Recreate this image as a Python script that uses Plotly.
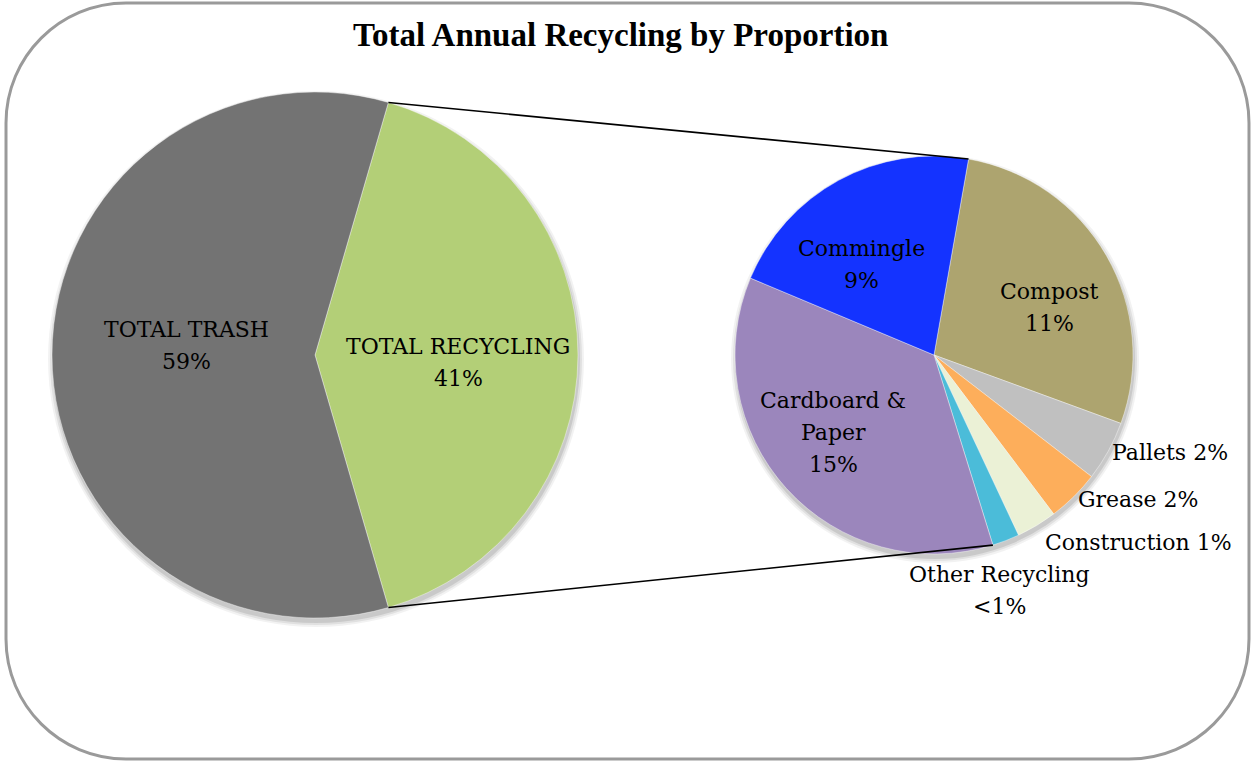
import math
import plotly.graph_objects as go

W, H = 1251, 761

# Overall split of the annual waste stream (percent)
main_labels = ["TOTAL RECYCLING", "TOTAL TRASH"]
main_values = [41, 59]
main_colors = ["#B3CF77", "#737373"]

# Breakdown of the recycling share (percent of the overall total)
sub_labels = ["Compost", "Pallets", "Grease", "Construction",
              "Other Recycling", "Cardboard & Paper", "Commingle"]
sub_values = [11.4, 2.0, 1.75, 1.35, 0.9, 14.8, 8.8]
sub_colors = ["#ADA46F", "#C0C0C0", "#FDAE5B", "#EBF1D6",
              "#4BBCD9", "#9B86BC", "#1433FF"]

title_text = "Total Annual Recycling by Proportion"

# ---- layout geometry (pixels) ----
LEFT_C, LEFT_R = (315, 355), 263
RIGHT_C, RIGHT_R = (934, 355), 199
RIGHT_ROT = 10.0
LABEL_FONT = "DejaVu Serif"
LABEL_SIZE = 22
LINE_GAP = 32

total_all = sum(main_values)


def pct_text(v):
    p = v / total_all * 100
    return "<1%" if p < 1 else f"{round(p)}%"


def px(x):
    return x / W


def py(y):
    return 1 - y / H


def domain(center, r):
    cx, cy = center
    return dict(x=[px(cx - r), px(cx + r)], y=[py(cy + r), py(cy - r)])


def slice_angles(values, rotation):
    tot = sum(values)
    out, a = [], rotation
    for v in values:
        span = v / tot * 360
        out.append((a, a + span, a + span / 2))
        a += span
    return out


def polar(center, r, ang):
    t = math.radians(ang)
    return center[0] + r * math.sin(t), center[1] - r * math.cos(t)


# recycling wedge centred on the right-hand side of the main pie
left_rot = 90 - main_values[0] / total_all * 180
left_ang = slice_angles(main_values, left_rot)
right_ang = slice_angles(sub_values, RIGHT_ROT)

edge = dict(color="rgba(255,255,255,0.4)", width=1)

fig = go.Figure()
fig.add_trace(go.Pie(
    labels=main_labels, values=main_values, sort=False, direction="clockwise",
    rotation=left_rot, marker=dict(colors=main_colors, line=edge),
    textinfo="none", hoverinfo="label+percent", showlegend=False,
    domain=domain(LEFT_C, LEFT_R),
))
fig.add_trace(go.Pie(
    labels=sub_labels, values=sub_values, sort=False, direction="clockwise",
    rotation=RIGHT_ROT, marker=dict(colors=sub_colors, line=edge),
    textinfo="none", hoverinfo="label+value", showlegend=False,
    domain=domain(RIGHT_C, RIGHT_R),
))

annotations = []


def add_label(lines, x, y, xanchor="center"):
    n = len(lines)
    for i, ln in enumerate(lines):
        yy = y + (i - (n - 1) / 2) * LINE_GAP
        annotations.append(dict(
            text=ln, x=px(x), y=py(yy), xref="paper", yref="paper",
            xanchor=xanchor, yanchor="middle", showarrow=False,
            font=dict(family=LABEL_FONT, size=LABEL_SIZE, color="#000000"),
        ))


# main pie labels: (radius fraction, dx, dy)
main_place = {"TOTAL RECYCLING": (0.544, 0, 7), "TOTAL TRASH": (0.487, 0, -10)}
for name, val, (a0, a1, mid) in zip(main_labels, main_values, left_ang):
    k, dx, dy = main_place[name]
    x, y = polar(LEFT_C, LEFT_R * k, mid)
    add_label([name, pct_text(val)], x + dx, y + dy)

# breakdown labels: (display lines before pct, joiner, radius fraction, dx, dy, anchor)
sub_place = {
    "Compost": (["Compost"], "\n", 0.63, 7, 15, "center"),
    "Pallets": (["Pallets"], " ", 1.0, 2, 1, "left"),
    "Grease": (["Grease"], " ", 1.0, 2, 3, "left"),
    "Construction": (["Construction"], " ", 1.0, 6, 17, "left"),
    "Other Recycling": (["Other Recycling"], "\n", 1.0, -6, 50, "center"),
    "Cardboard & Paper": (["Cardboard &", "Paper"], "\n", 0.65, -5, -9, "center"),
    "Commingle": (["Commingle"], "\n", 0.6, -15, 14, "center"),
}
for name, val, (a0, a1, mid) in zip(sub_labels, sub_values, right_ang):
    words, joiner, k, dx, dy, anc = sub_place[name]
    x, y = polar(RIGHT_C, RIGHT_R * k, mid)
    if joiner == "\n":
        lines = words + [pct_text(val)]
    else:
        lines = [" ".join(words) + " " + pct_text(val)]
    add_label(lines, x + dx, y + dy, anc)

# title
annotations.append(dict(
    text=f"<b>{title_text}</b>", x=px(620), y=py(35), xref="paper", yref="paper",
    xanchor="center", yanchor="middle", showarrow=False,
    font=dict(family="Liberation Serif", size=33, color="#000000"),
))

shapes = []

# soft drop shadow under both pies (stacked translucent discs)
for (cx, cy), r in [(LEFT_C, LEFT_R), (RIGHT_C, RIGHT_R)]:
    for grow, alpha in [(5, 0.05), (3, 0.07), (1, 0.10)]:
        shapes.append(dict(
            type="circle", xref="paper", yref="paper", layer="below",
            x0=px(cx - r - grow + 1), x1=px(cx + r + grow + 1),
            y0=py(cy + r + grow + 4), y1=py(cy - r - grow + 4),
            fillcolor=f"rgba(0,0,0,{alpha})", line=dict(width=0),
        ))

# connector lines between the recycling wedge and the breakdown pie
top_l = polar(LEFT_C, LEFT_R, left_ang[0][0])
bot_l = polar(LEFT_C, LEFT_R, left_ang[0][1])
top_r = polar(RIGHT_C, RIGHT_R, right_ang[0][0])
bot_r = polar(RIGHT_C, RIGHT_R, right_ang[sub_labels.index("Other Recycling")][1])
for (xa, ya), (xb, yb) in [(top_l, top_r), (bot_l, bot_r)]:
    shapes.append(dict(type="line", xref="paper", yref="paper",
                       x0=px(xa), y0=py(ya), x1=px(xb), y1=py(yb),
                       line=dict(color="#000000", width=1.6)))

# rounded outer frame
fx0, fx1, fy0, fy1, rr = 6, 1249, 3, 759, 120
kk = 0.5523 * rr


def P(x, y):
    return f"{px(x):.5f},{py(y):.5f}"


frame = (
    f"M {P(fx0 + rr, fy0)} L {P(fx1 - rr, fy0)} "
    f"C {P(fx1 - rr + kk, fy0)} {P(fx1, fy0 + rr - kk)} {P(fx1, fy0 + rr)} "
    f"L {P(fx1, fy1 - rr)} "
    f"C {P(fx1, fy1 - rr + kk)} {P(fx1 - rr + kk, fy1)} {P(fx1 - rr, fy1)} "
    f"L {P(fx0 + rr, fy1)} "
    f"C {P(fx0 + rr - kk, fy1)} {P(fx0, fy1 - rr + kk)} {P(fx0, fy1 - rr)} "
    f"L {P(fx0, fy0 + rr)} "
    f"C {P(fx0, fy0 + rr - kk)} {P(fx0 + rr - kk, fy0)} {P(fx0 + rr, fy0)} Z"
)
shapes.append(dict(type="path", path=frame, xref="paper", yref="paper",
                   line=dict(color="#9A9A9A", width=3)))

fig.update_layout(
    width=W, height=H, margin=dict(l=0, r=0, t=0, b=0),
    paper_bgcolor="#FFFFFF", plot_bgcolor="#FFFFFF",
    annotations=annotations, shapes=shapes, showlegend=False,
)

fig.write_html("out.html")
